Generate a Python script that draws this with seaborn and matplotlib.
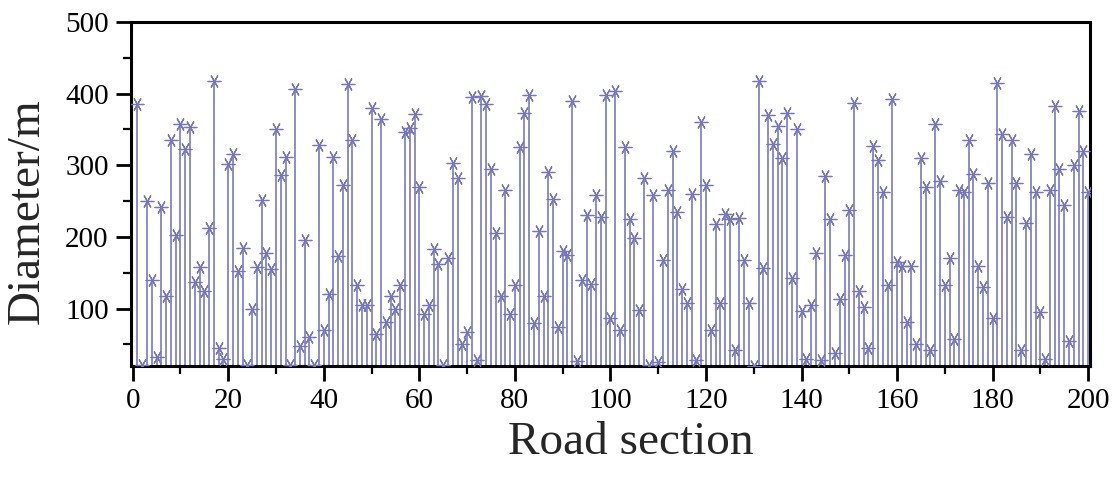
import numpy as np
import pandas as pd
import matplotlib
matplotlib.use("Agg")
import matplotlib.pyplot as plt
import seaborn as sns
from matplotlib.ticker import MultipleLocator

sections = list(range(1, 201))
diameters = [
    385, 22, 250, 140, 32, 242, 118, 335, 203, 357,
    323, 353, 137, 158, 125, 213, 418, 45, 30, 302,
    315, 152, 185, 22, 100, 158, 252, 178, 155, 350,
    287, 312, 22, 407, 48, 196, 60, 22, 328, 70,
    120, 312, 173, 272, 413, 335, 133, 105, 105, 380,
    65, 365, 82, 118, 100, 133, 347, 352, 372, 270,
    93, 105, 183, 162, 22, 170, 303, 282, 50, 68,
    395, 28, 397, 385, 295, 205, 118, 265, 93, 133,
    325, 373, 398, 80, 208, 118, 290, 253, 75, 180,
    175, 390, 27, 140, 230, 135, 258, 228, 398, 87,
    403, 70, 325, 225, 198, 98, 282, 22, 258, 25,
    168, 265, 320, 235, 128, 108, 260, 28, 360, 273,
    70, 218, 108, 232, 225, 42, 227, 168, 108, 20,
    418, 157, 370, 330, 355, 310, 373, 143, 350, 97,
    30, 105, 178, 28, 285, 225, 38, 113, 175, 238,
    387, 125, 102, 45, 327, 307, 263, 133, 392, 165,
    160, 82, 160, 50, 310, 270, 42, 357, 278, 133,
    170, 57, 265, 262, 335, 288, 160, 130, 275, 87,
    415, 343, 228, 335, 275, 42, 220, 315, 262, 95,
    30, 265, 383, 295, 245, 55, 300, 375, 320, 262,
]
x_ticks = [0, 20, 40, 60, 80, 100, 120, 140, 160, 180, 200]
y_ticks = [100, 200, 300, 400, 500]

df = pd.DataFrame({"section": sections, "diameter": diameters})

sns.set_theme(style="ticks")
plt.rcParams["font.family"] = ["Liberation Serif", "DejaVu Serif"]

fig = plt.figure(figsize=(11.18, 4.8), dpi=100)
ax = fig.add_axes([0.117, 0.2375, 0.858, 0.717])

stem_color = "#8484c4"
ax.vlines(df["section"], 0, df["diameter"], color=stem_color, linewidth=1.3, zorder=2)
sns.scatterplot(data=df, x="section", y="diameter", ax=ax, marker=(6, 2, 90),
                s=85, color="#7676b8", linewidth=0.9, edgecolor="#7676b8", zorder=3,
                legend=False)

ax.set_xlim(-0.4, 200.4)
ax.set_ylim(20, 500)
ax.set_xticks(x_ticks)
ax.set_yticks(y_ticks)
ax.xaxis.set_minor_locator(MultipleLocator(10))
ax.yaxis.set_minor_locator(MultipleLocator(50))
ax.tick_params(axis="both", which="major", direction="out", length=11, width=2,
               labelsize=21, color="black", labelcolor="black", pad=5)
ax.tick_params(axis="both", which="minor", direction="out", length=6, width=1.6, color="black")
for s in ax.spines.values():
    s.set_visible(True)
    s.set_linewidth(2.2)
    s.set_color("black")

ax.set_xlabel("Road section", fontsize=34, va="center", ha="center")
ax.set_ylabel("Diameter/m", fontsize=34, va="center", ha="center")
ax.xaxis.set_label_coords(0.521, -0.224)
ax.yaxis.set_label_coords(-0.108, 0.45)

fig.savefig("out.png", dpi=100, facecolor="white")
